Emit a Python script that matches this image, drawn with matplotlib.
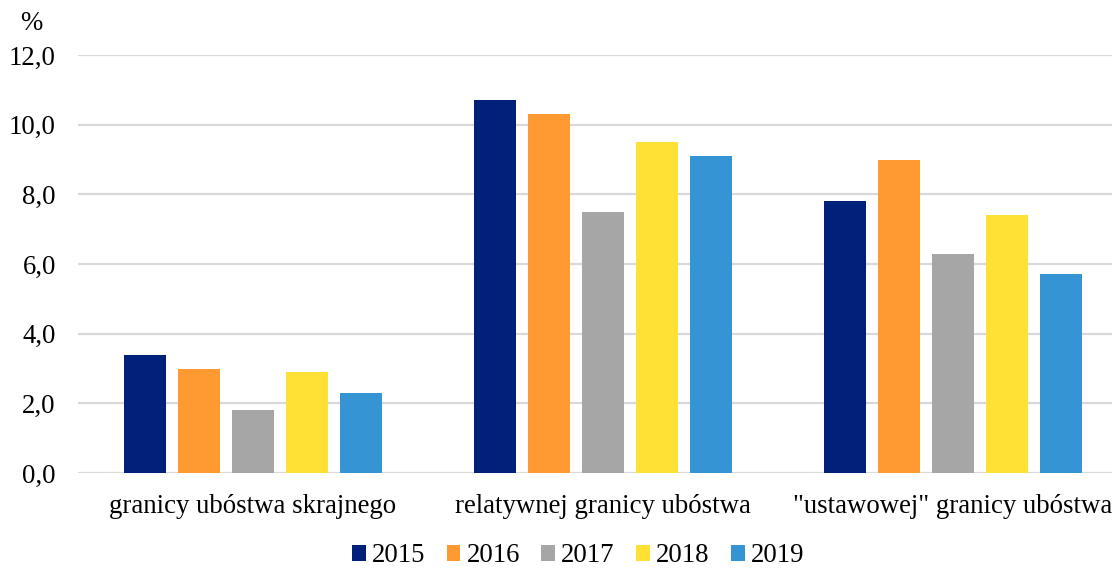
import matplotlib
matplotlib.use("Agg")
import matplotlib.pyplot as plt
import numpy as np
from matplotlib.patches import Patch

categories = ["granicy ubóstwa skrajnego", "relatywnej granicy ubóstwa", "\"ustawowej\" granicy ubóstwa"]
years = ["2015", "2016", "2017", "2018", "2019"]
values = {
    "2015": [3.4, 10.7, 7.8],
    "2016": [3.0, 10.3, 9.0],
    "2017": [1.8, 7.5, 6.3],
    "2018": [2.9, 9.5, 7.4],
    "2019": [2.3, 9.1, 5.7],
}
yticks = [0, 2, 4, 6, 8, 10, 12]
ytick_labels = ["0,0", "2,0", "4,0", "6,0", "8,0", "10,0", "12,0"]
colors = ["#00207A", "#FF9A33", "#A6A6A6", "#FFE135", "#3494D4"]

plt.rcParams['font.family'] = ['Liberation Serif', 'DejaVu Serif']
FS = 19.3

W, H = 1112, 569
fig = plt.figure(figsize=(W / 100, H / 100), dpi=100)
ax = fig.add_axes([78 / W, (H - 473) / H, (1128 - 78) / W, (473 - 55) / H])

x = np.arange(len(categories))
bw = 0.12
step = 54 / 350
for i, (yr, c) in enumerate(zip(years, colors)):
    ax.bar(x + (i - 2) * step, values[yr], width=bw, color=c, zorder=3, label=yr)

ax.set_xlim(-0.5, 2.5)
ax.set_ylim(0, 12)
ax.set_yticks(yticks)
ax.set_yticklabels(ytick_labels, fontsize=FS)
ax.set_xticks(x)
ax.set_xticklabels(categories, fontsize=FS)
ax.tick_params(axis='y', length=0, pad=16)
ax.tick_params(axis='x', length=0, pad=15)
ax.grid(axis='y', color='#D9D9D9', linewidth=1.6, zorder=0)
ax.set_axisbelow(True)
for s in ax.spines.values():
    s.set_visible(False)

fig.text(31 / W, 1 - 24 / H, "%", fontsize=FS, ha='center', va='center')

handles = [Patch(facecolor=c, edgecolor='none') for c in colors]
fig.legend(handles, years, loc='center', bbox_to_anchor=(578 / W, 1 - 556 / H), ncol=5,
           frameon=False, fontsize=FS, handlelength=0.52, handleheight=0.52,
           handletextpad=0.22, columnspacing=0.8)

fig.savefig("out.png", dpi=100)
